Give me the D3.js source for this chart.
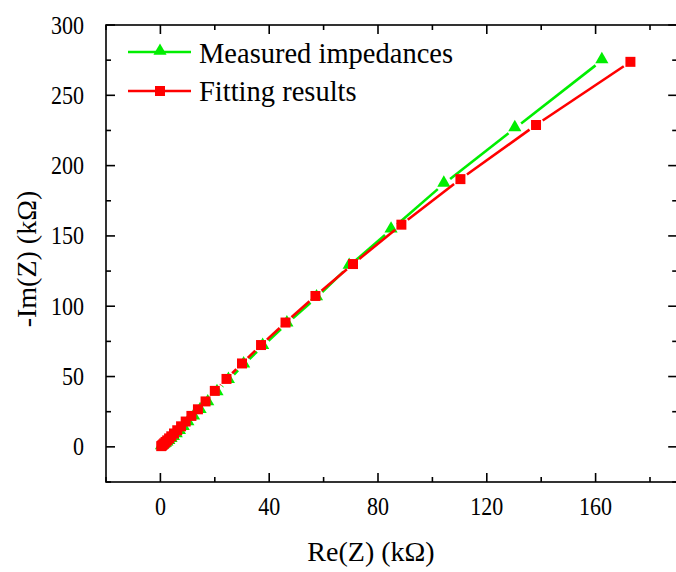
<!DOCTYPE html>
<html><head><meta charset="utf-8">
<script src="https://cdn.jsdelivr.net/npm/d3@7"></script>
<style>body{margin:0;background:#fff}svg{display:block}</style>
</head><body>
<svg id="c" width="676" height="572" font-family="'Liberation Serif', 'Times New Roman', serif"></svg>
<script>
// Data (kΩ)
const measuredRe = [0.4,0.8,1.3,1.8,2.4,3.1,3.9,4.8,5.8,7.0,8.4,10.1,12.2,14.6,17.4,20.8,25.0,30.6,37.6,46.5,57.4,69.4,84.8,104.2,130.3,162.3];
const measuredIm = [0.2,0.7,1.3,2.0,3.0,4.1,5.4,6.9,8.9,11.2,14.0,17.3,21.4,26.0,31.5,38.7,47.4,58.5,71.6,87.6,106.2,128.6,154.4,187.0,226.5,274.8];
const fitRe = [0.3,0.6,1.0,1.4,1.9,2.5,3.2,4.0,5.0,6.2,7.6,9.3,11.4,13.8,16.6,20.0,24.3,30.0,37.0,46.0,57.0,70.8,88.6,110.3,138.1,172.8];
const fitIm = [0.5,1.0,1.7,2.5,3.5,4.6,6.0,7.5,9.5,11.8,14.6,18.0,22.0,26.7,32.3,39.8,48.3,59.3,72.4,88.4,107.3,130.0,158.0,190.4,228.9,273.8];
const xTicks = [0,40,80,120,160];
const yTicks = [0,50,100,150,200,250,300];
const seriesNames = ["Measured impedances","Fitting results"];

const FONT = "'Liberation Serif', 'Times New Roman', serif";
const svg = d3.select("#c");
const L=106, R=677.2, T=25, B=482;
const x = d3.scaleLinear().domain([-20,190]).range([L,R]);
const y = d3.scaleLinear().domain([-25,300]).range([B,T]);
const green = "#00ee00", red = "#ff0000";

// axes
const xMinor = d3.range(-20,191,20).filter(v=>!xTicks.includes(v));
const yMinor = d3.range(-25,301,25).filter(v=>!yTicks.includes(v));
const ax = svg.append("g").attr("stroke","#000").attr("stroke-width",1.6);
ax.append("rect").attr("x",L).attr("y",T).attr("width",R-L).attr("height",B-T).attr("fill","none");
function tickX(v,len){ ax.append("line").attr("x1",x(v)).attr("x2",x(v)).attr("y1",B).attr("y2",B-len);
  ax.append("line").attr("x1",x(v)).attr("x2",x(v)).attr("y1",T).attr("y2",T+len);}
function tickY(v,len){ ax.append("line").attr("y1",y(v)).attr("y2",y(v)).attr("x1",L).attr("x2",L+len);
  ax.append("line").attr("y1",y(v)).attr("y2",y(v)).attr("x1",R).attr("x2",R-len);}
xTicks.forEach(v=>tickX(v,9)); xMinor.forEach(v=>tickX(v,5));
yTicks.forEach(v=>tickY(v,9)); yMinor.forEach(v=>tickY(v,5));

svg.append("g").selectAll("text").data(xTicks).join("text")
  .attr("font-family",FONT).attr("fill","#000")
  .attr("transform",d=>`translate(${x(d)},515) scale(0.88,1)`).attr("text-anchor","middle").attr("font-size",25).text(d=>d);
svg.append("g").selectAll("text").data(yTicks).join("text")
  .attr("font-family",FONT).attr("fill","#000")
  .attr("transform",d=>`translate(84,${y(d)+8.5}) scale(0.88,1)`).attr("text-anchor","end").attr("font-size",25).text(d=>d);

svg.append("text").attr("font-family",FONT).attr("x",371).attr("y",561).attr("text-anchor","middle").attr("font-size",28).text("Re(Z) (kΩ)");
svg.append("text").attr("font-family",FONT).attr("transform","translate(36,259) rotate(-90)").attr("text-anchor","middle").attr("font-size",28).text("-Im(Z) (kΩ)");

// series with gaps around symbols
function drawSeries(xs,ys,color,shape){
  const g = svg.append("g");
  const gap = 8;
  for(let i=0;i<xs.length-1;i++){
    const x1=x(xs[i]), y1=y(ys[i]), x2=x(xs[i+1]), y2=y(ys[i+1]);
    const dx=x2-x1, dy=y2-y1, len=Math.hypot(dx,dy);
    if(len<=2*gap) continue;
    const ux=dx/len, uy=dy/len;
    g.append("line").attr("x1",x1+ux*gap).attr("y1",y1+uy*gap).attr("x2",x2-ux*gap).attr("y2",y2-uy*gap)
      .attr("stroke",color).attr("stroke-width",2.6);
  }
  const sym = d3.symbol().type(shape==="tri"?d3.symbolTriangle:d3.symbolSquare).size(shape==="tri"?75:100);
  g.selectAll("path").data(xs.map((v,i)=>[v,ys[i]])).join("path")
    .attr("d",sym).attr("transform",d=>`translate(${x(d[0])},${y(d[1])+(shape==="tri"?-1:0)})`).attr("fill",color);
}
drawSeries(measuredRe,measuredIm,green,"tri");
drawSeries(fitRe,fitIm,red,"sq");

// legend
const leg = svg.append("g");
[[green,"tri",52,63],[red,"sq",91,101]].forEach((s,i)=>{
  leg.append("line").attr("x1",128).attr("x2",191).attr("y1",s[2]).attr("y2",s[2]).attr("stroke",s[0]).attr("stroke-width",2.6);
  leg.append("path").attr("d",d3.symbol().type(s[1]==="tri"?d3.symbolTriangle:d3.symbolSquare).size(s[1]==="tri"?75:100))
    .attr("transform",`translate(160,${s[2]-(s[1]==="tri"?1:0)})`).attr("fill",s[0]);
  leg.append("text").attr("font-family",FONT).attr("x",199).attr("y",s[3]).attr("font-size",28.5).text(seriesNames[i]);
});
</script>
</body></html>
